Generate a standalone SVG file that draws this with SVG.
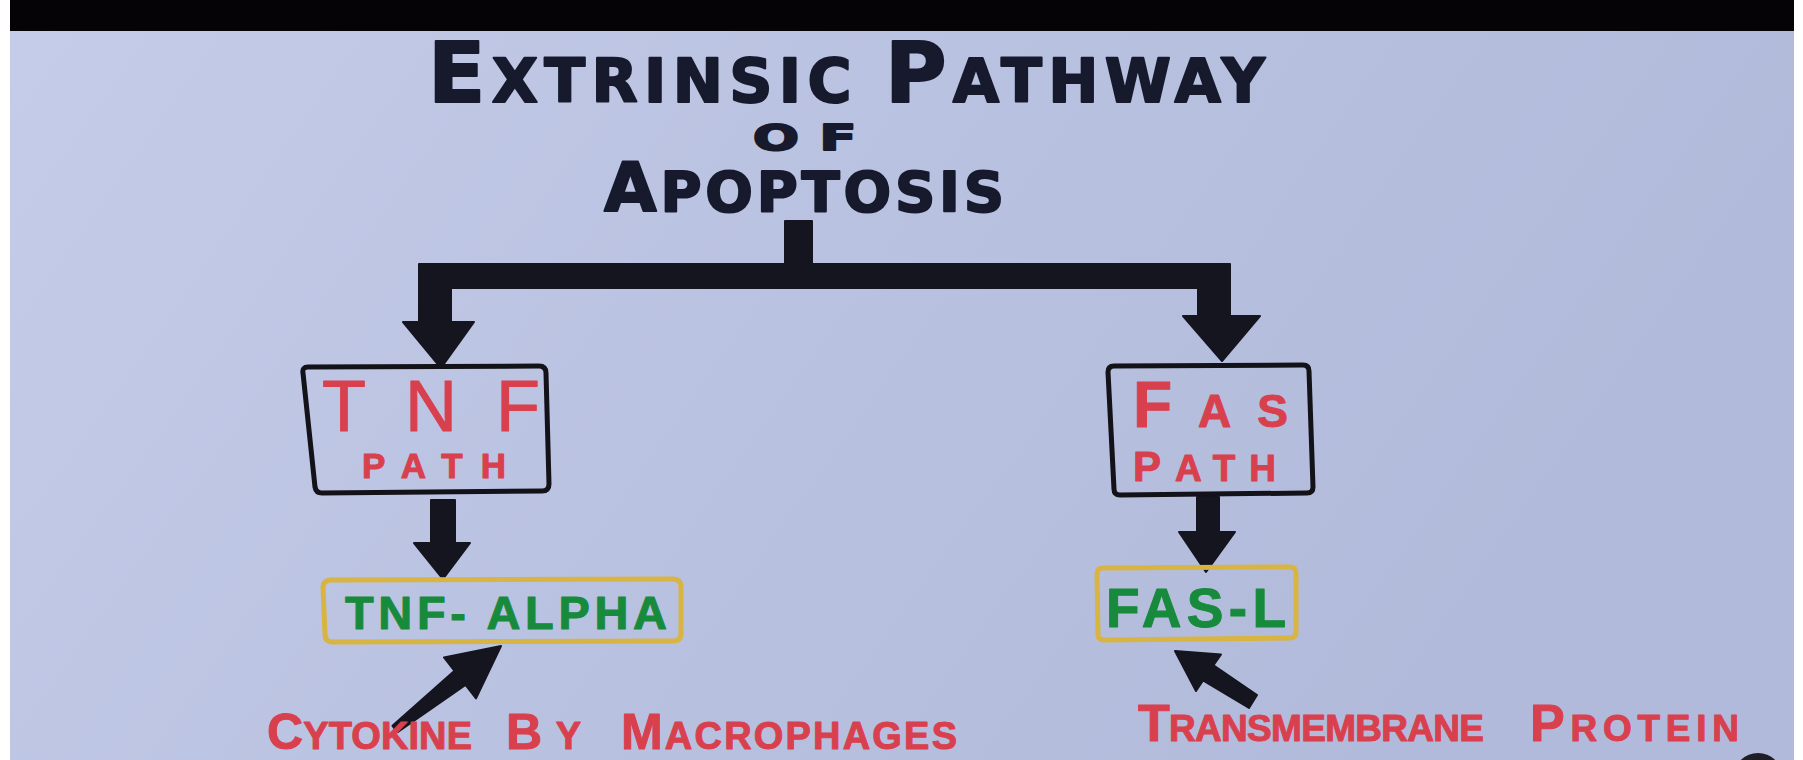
<svg xmlns="http://www.w3.org/2000/svg" width="1803" height="760" viewBox="0 0 1803 760">
  <defs>
    <linearGradient id="bg" x1="0" y1="0" x2="1" y2="0.3">
      <stop offset="0" stop-color="#c4cce9"/>
      <stop offset="0.5" stop-color="#bac2e1"/>
      <stop offset="1" stop-color="#b2badb"/>
    </linearGradient>
    <style>
      .title { font-family: "DejaVu Sans", "Liberation Sans", sans-serif; font-weight: 700; fill: #161a2c; stroke: #161a2c; stroke-width: 2; stroke-linejoin: round; }
      .red { font-family: "Liberation Sans", Arial, sans-serif; fill: #d9404e; stroke: #d9404e; stroke-width: 1; stroke-linejoin: round; }
      .green { font-family: "Liberation Sans", Arial, sans-serif; font-weight: 700; fill: #178a3c; stroke: #178a3c; stroke-width: 1; stroke-linejoin: round; }
      .box { fill: none; stroke: #121218; stroke-width: 5; stroke-linejoin: round; }
      .gold { fill: none; stroke: #d8b443; stroke-width: 5; stroke-linejoin: round; }
      .conn { fill: #15151f; stroke: #15151f; stroke-width: 2; stroke-linejoin: round; }
    </style>
  </defs>

  <rect x="0" y="0" width="1803" height="760" fill="#ffffff"/>
  <rect x="10" y="0" width="1784" height="760" fill="url(#bg)"/>
  <rect x="10" y="0" width="1784" height="31" fill="#050306"/>

  <g id="title">
    <text class="title" x="428" y="102" textLength="837" lengthAdjust="spacing"><tspan font-size="84">E</tspan><tspan font-size="60">XTRINSIC </tspan><tspan font-size="84">P</tspan><tspan font-size="60">ATHWAY</tspan></text>
    <text class="title" transform="translate(753,150) scale(1.5,1)" x="0" y="0" font-size="36" textLength="69" lengthAdjust="spacing">OF</text>
    <text class="title" x="604" y="211" textLength="400" lengthAdjust="spacing"><tspan font-size="68">A</tspan><tspan font-size="56">POPTOSIS</tspan></text>
  </g>

  <g id="connectors">
    <path class="conn" d="M785,221 L812,221 L812,264 L1230,264 L1230,318 L1198,318 L1198,288 L451,288 L451,324 L419,324 L419,264 L785,264 Z"/>
    <polygon class="conn" points="403,322 474,322 441,368"/>
    <polygon class="conn" points="1183,316 1260,316 1222,361"/>
    <rect class="conn" x="431" y="500" width="24" height="46"/>
    <polygon class="conn" points="414,543 470,543 443,579"/>
    <rect class="conn" x="1197" y="497" width="22" height="39"/>
    <polygon class="conn" points="1179,532 1235,532 1206,572"/>
    <polygon class="conn" points="392.5,725.8 454.5,670.8 444,657.4 501,646 476,698.4 465.5,685 397.5,732.2"/>
    <polygon class="conn" points="1257,695 1213.5,665.2 1221,654.5 1175,651 1196,691 1203,680.5 1249,708"/>
  </g>

  <g id="node-tnf-path">
    <path class="box" d="M303,373 Q302,367 308,367 L539,366 Q546,366 546,373 L549,484 Q549,491 542,491 L322,493 Q316,493 315,487 Z"/>
    <text class="red" x="322" y="431" font-size="72" textLength="218" lengthAdjust="spacing">TNF</text>
    <text class="red" x="362" y="478" font-size="35" font-weight="700" textLength="144" lengthAdjust="spacing">PATH</text>
  </g>

  <g id="node-fas-path">
    <path class="box" d="M1108,372 Q1108,366 1114,366 L1303,365 Q1309,365 1309,371 L1313,487 Q1313,493 1307,493 L1120,495 Q1114,495 1114,489 Z"/>
    <text class="red" x="1133" y="427" font-weight="700" textLength="155" lengthAdjust="spacing"><tspan font-size="64">F</tspan><tspan font-size="46">AS</tspan></text>
    <text class="red" x="1133" y="481" font-weight="700" textLength="143" lengthAdjust="spacing"><tspan font-size="42">P</tspan><tspan font-size="37">ATH</tspan></text>
  </g>

  <g id="node-tnf-alpha">
    <path class="gold" d="M323,588 Q323,580 331,580 L673,579 Q681,579 681,587 L681,633 Q681,641 673,641 L333,642 Q325,642 325,634 Z"/>
    <text class="green" x="345" y="629" font-size="47" textLength="322" lengthAdjust="spacing">TNF- ALPHA</text>
  </g>

  <g id="node-fas-l">
    <path class="gold" d="M1097,574 Q1097,568 1103,568 L1290,567 Q1296,567 1296,573 L1296,632 Q1296,638 1290,638 L1104,640 Q1098,640 1098,634 Z"/>
    <text class="green" x="1106" y="627" font-size="55" textLength="180" lengthAdjust="spacing">FAS-L</text>
  </g>

  <g id="label-cytokine">
    <text class="red" x="267" y="749" font-weight="700" textLength="205" lengthAdjust="spacing"><tspan font-size="50">C</tspan><tspan font-size="38">YTOKINE</tspan></text>
    <text class="red" x="506" y="749" font-weight="700" textLength="75" lengthAdjust="spacing"><tspan font-size="50">B</tspan><tspan font-size="38">Y</tspan></text>
    <text class="red" x="621" y="749" font-weight="700" textLength="336" lengthAdjust="spacing"><tspan font-size="50">M</tspan><tspan font-size="38">ACROPHAGES</tspan></text>
  </g>

  <g id="label-transmembrane">
    <text class="red" x="1138" y="741" font-weight="700" textLength="346" lengthAdjust="spacing"><tspan font-size="52">T</tspan><tspan font-size="37">RANSMEMBRANE</tspan></text>
    <text class="red" x="1530" y="741" font-weight="700" textLength="209" lengthAdjust="spacing"><tspan font-size="52">P</tspan><tspan font-size="37">ROTEIN</tspan></text>
  </g>

  <ellipse cx="1758" cy="776" rx="24" ry="23" fill="#1e1e24"/>
</svg>
